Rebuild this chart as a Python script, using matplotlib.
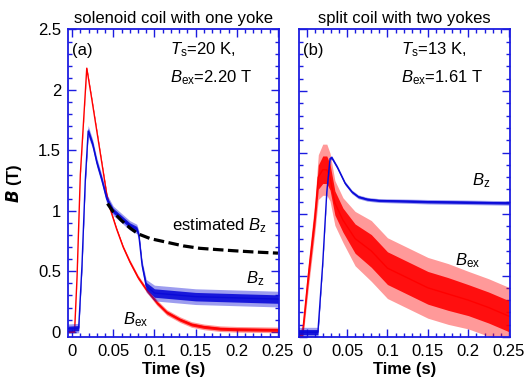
import numpy as np
import matplotlib.pyplot as plt

plt.rcParams['font.family'] = ['Liberation Sans', 'DejaVu Sans']
plt.rcParams['mathtext.fontset'] = 'custom'
plt.rcParams['mathtext.rm'] = 'Liberation Sans'
plt.rcParams['mathtext.it'] = 'Liberation Sans:italic'
plt.rcParams['mathtext.bf'] = 'Liberation Sans:bold'

# (a) solenoid coil with one yoke, Ts = 20 K
t_ex_a = [-0.005, 0.003, 0.006, 0.010, 0.0178, 0.024, 0.030, 0.036, 0.042, 0.046, 0.054,
          0.062, 0.070, 0.080, 0.090, 0.103, 0.115, 0.131, 0.145, 0.160, 0.180, 0.200, 0.250]
b_ex_a = [0.0, 0.0, 0.45, 1.30, 2.18, 1.92, 1.66, 1.40, 1.14, 1.02, 0.85,
          0.70, 0.58, 0.45, 0.35, 0.24, 0.16, 0.10, 0.06, 0.04, 0.025, 0.02, 0.015]
s_ex_a = [0.004, 0.004, 0.006, 0.008, 0.01, 0.01, 0.01, 0.01, 0.01, 0.01, 0.012,
          0.012, 0.014, 0.015, 0.016, 0.018, 0.018, 0.018, 0.018, 0.018, 0.018, 0.018, 0.018]

t_z_a = [-0.005, 0.008, 0.012, 0.016, 0.0195, 0.025, 0.030, 0.036, 0.042, 0.050, 0.060,
         0.070, 0.0785, 0.081, 0.085, 0.090, 0.100, 0.150, 0.200, 0.250]
b_z_a = [0.025, 0.03, 0.55, 1.25, 1.66, 1.55, 1.40, 1.26, 1.10, 1.00, 0.94,
         0.88, 0.85, 0.80, 0.55, 0.38, 0.32, 0.29, 0.28, 0.27]
s_z_a = [0.03, 0.03, 0.03, 0.03, 0.035, 0.03, 0.03, 0.03, 0.03, 0.03, 0.03,
         0.03, 0.03, 0.03, 0.03, 0.04, 0.05, 0.05, 0.05, 0.05]

t_est = [0.043, 0.050, 0.060, 0.070, 0.080, 0.095, 0.115, 0.135, 0.155, 0.175, 0.196, 0.220, 0.250]
b_est = [1.06, 0.99, 0.92, 0.86, 0.81, 0.77, 0.74, 0.71, 0.69, 0.68, 0.67, 0.66, 0.65]

# (b) split coil with two yokes, Ts = 13 K
t_ex_b = [-0.010, -0.005, 0.002, 0.0103, 0.0145, 0.020, 0.025, 0.029, 0.035, 0.045, 0.060,
          0.080, 0.100, 0.125, 0.150, 0.175, 0.200, 0.225, 0.250]
b_ex_b = [0.0, 0.03, 0.49, 0.98, 1.30, 1.36, 1.36, 1.30, 1.09, 0.95, 0.80,
          0.70, 0.56, 0.48, 0.40, 0.35, 0.30, 0.24, 0.17]
s_ex_b = [0.02, 0.05, 0.08, 0.10, 0.14, 0.16, 0.16, 0.15, 0.14, 0.14, 0.17,
          0.19, 0.19, 0.19, 0.19, 0.19, 0.18, 0.18, 0.18]

t_z_b = [-0.010, 0.0140, 0.020, 0.025, 0.029, 0.031, 0.038, 0.0476, 0.056, 0.064, 0.075,
         0.089, 0.150, 0.250]
b_z_b = [0.04, 0.04, 0.60, 1.18, 1.45, 1.46, 1.38, 1.25, 1.18, 1.14, 1.12,
         1.11, 1.10, 1.09]
s_z_b = [0.03, 0.03, 0.012, 0.012, 0.012, 0.012, 0.012, 0.012, 0.012, 0.012, 0.012,
         0.012, 0.014, 0.014]

RED = '#ff0000'
BLUE = '#0a0ad8'
AXC = '#1c1ce0'


def trace(ax, t, b, s, color, lw=1.0, z=2):
    t = np.array(t)
    b = np.array(b)
    s = np.array(s)
    # noise band: light outer envelope and denser core
    ax.fill_between(t, b - 1.3 * s, b + 1.3 * s, color=color, lw=0, alpha=0.4, zorder=z)
    ax.fill_between(t, b - 0.7 * s, b + 0.7 * s, color=color, lw=0, alpha=0.9, zorder=z)
    ax.plot(t, b, color=color, lw=lw, zorder=z)


def style(ax, xlim, ylim):
    ax.set_xlim(*xlim)
    ax.set_ylim(*ylim)
    ax.set_xticks([0, 0.05, 0.1, 0.15, 0.2, 0.25])
    ax.set_xticklabels(['0', '0.05', '0.1', '0.15', '0.2', '0.25'])
    ax.set_xticks(np.arange(0, 0.2501, 0.01), minor=True)
    ax.set_yticks([0, 0.5, 1, 1.5, 2, 2.5])
    ax.set_yticks(np.arange(0, 2.501, 0.1), minor=True)
    ax.tick_params(which='both', direction='in', top=True, right=True,
                   color=AXC, labelsize=12, width=1.0)
    ax.tick_params(which='major', length=6, pad=5)
    ax.tick_params(which='minor', length=3)
    for sp in ax.spines.values():
        sp.set_color(AXC)
        sp.set_linewidth(1.3)
    ax.set_xlabel('Time (s)', fontsize=12, fontweight='bold', labelpad=2)


fig = plt.figure(figsize=(5.27, 3.83), dpi=100)
ax1 = fig.add_axes([0.129, 0.120, 0.400, 0.803])
ax2 = fig.add_axes([0.567, 0.120, 0.400, 0.803])

# panel (a)
trace(ax1, t_ex_a, b_ex_a, s_ex_a, RED, z=2)
trace(ax1, t_z_a, b_z_a, s_z_a, BLUE, z=3)
ax1.plot(t_est, b_est, color='black', lw=2.3, dashes=(3.3, 1.4), zorder=4)
style(ax1, (-0.005, 0.251), (-0.044, 2.5))
ax1.set_yticklabels(['0', '0.5', '1', '1.5', '2', '2.5'])
ax1.set_ylabel(r'$\mathbfit{B}$ (T)', fontsize=12, fontweight='bold', labelpad=10)
ax1.set_title('solenoid coil with one yoke', fontsize=12, pad=5)
ax1.text(0.02, 0.933, '(a)', transform=ax1.transAxes, fontsize=12, va='center')
ax1.text(0.483, 0.933, r'$T_{\rm s}$=20 K,', transform=ax1.transAxes, fontsize=12, va='center')
ax1.text(0.483, 0.842, r'$B_{\rm ex}$=2.20 T', transform=ax1.transAxes, fontsize=12, va='center')
ax1.text(0.121, 0.88, r'estimated $B_{\rm z}$', fontsize=12, va='center')
ax1.text(0.211, 0.44, r'$B_{\rm z}$', fontsize=12, va='center')
ax1.text(0.062, 0.10, r'$B_{\rm ex}$', fontsize=12, va='center')

# panel (b)
trace(ax2, t_ex_b, b_ex_b, s_ex_b, RED, z=2)
trace(ax2, t_z_b, b_z_b, s_z_b, BLUE, z=3)
style(ax2, (-0.0096, 0.251), (0, 2.5))
ax2.set_yticklabels([])
ax2.set_title('split coil with two yokes', fontsize=12, pad=5)
ax2.text(0.02, 0.933, '(b)', transform=ax2.transAxes, fontsize=12, va='center')
ax2.text(0.487, 0.933, r'$T_{\rm s}$=13 K,', transform=ax2.transAxes, fontsize=12, va='center')
ax2.text(0.487, 0.842, r'$B_{\rm ex}$=1.61 T', transform=ax2.transAxes, fontsize=12, va='center')
ax2.text(0.205, 1.27, r'$B_{\rm z}$', fontsize=12, va='center')
ax2.text(0.184, 0.62, r'$B_{\rm ex}$', fontsize=12, va='center')

fig.savefig('out.png', dpi=100)
